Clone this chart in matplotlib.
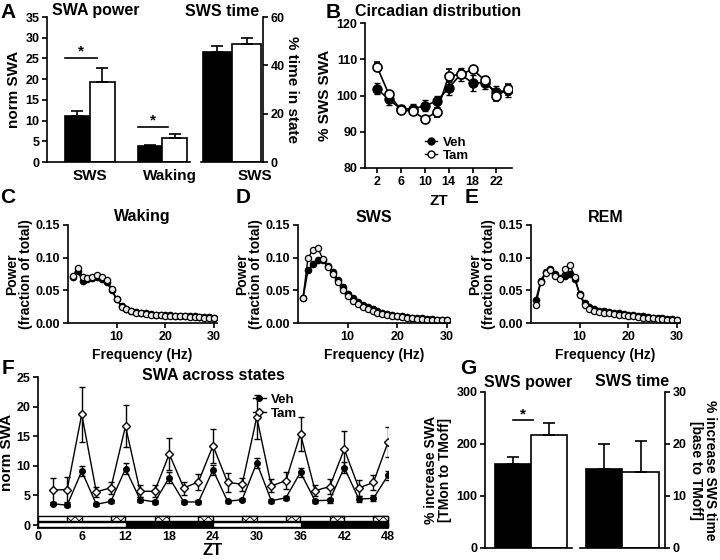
import matplotlib
matplotlib.use("Agg")
import matplotlib.pyplot as plt
from matplotlib.patches import Rectangle
from matplotlib.lines import Line2D

plt.rcParams['font.family'] = ['Liberation Sans', 'DejaVu Sans']
plt.rcParams['font.weight'] = 'bold'
plt.rcParams['axes.labelweight'] = 'bold'
plt.rcParams['axes.titleweight'] = 'bold'
plt.rcParams['font.size'] = 9
plt.rcParams['axes.linewidth'] = 1.2
plt.rcParams['xtick.major.width'] = 1.2
plt.rcParams['ytick.major.width'] = 1.2
plt.rcParams['xtick.major.size'] = 3.5
plt.rcParams['ytick.major.size'] = 3.5
plt.rcParams['xtick.major.pad'] = 2.5
plt.rcParams['ytick.major.pad'] = 2
plt.rcParams['hatch.linewidth'] = 0.6

# ---- data ----
# A: SWA power / SWS time
swa_groups = ['SWS', 'Waking']
swa_veh = [11.2, 3.8]
swa_veh_err = [1.0, 0.3]
swa_tam = [19.2, 5.8]
swa_tam_err = [3.6, 0.9]
sws_time_veh = [45.7]
sws_time_veh_err = [2.2]
sws_time_tam = [48.7]
sws_time_tam_err = [2.7]

# B: circadian distribution
zt_b = [2, 4, 6, 8, 10, 12, 14, 16, 18, 20, 22, 24]
circ_veh = [101.9, 98.9, 96.3, 96.3, 97.2, 98.4, 102.1, 105.8, 103.5, 103.5, 101.0, 101.4]
circ_veh_err = [1.5, 1.4, 1.0, 1.3, 1.6, 1.6, 1.9, 1.8, 2.2, 1.8, 1.5, 1.8]
circ_tam = [108.0, 100.3, 96.1, 95.6, 93.6, 95.4, 105.4, 105.8, 107.2, 104.3, 100.0, 101.7]
circ_tam_err = [1.3, 0.8, 0.8, 0.8, 0.8, 1.2, 1.8, 1.1, 1.0, 0.8, 1.5, 1.5]

# C-E: power spectra
freq = list(range(1, 31))
wake_veh = [0.070, 0.079, 0.065, 0.067, 0.069, 0.070, 0.068, 0.062, 0.050, 0.036,
            0.026, 0.022, 0.019, 0.017, 0.016, 0.015, 0.014, 0.013, 0.013, 0.012,
            0.012, 0.011, 0.011, 0.010, 0.010, 0.010, 0.009, 0.009, 0.009, 0.008]
wake_tam = [0.072, 0.084, 0.070, 0.069, 0.071, 0.073, 0.071, 0.066, 0.052, 0.036,
            0.025, 0.021, 0.018, 0.016, 0.015, 0.014, 0.013, 0.012, 0.012, 0.011,
            0.011, 0.010, 0.010, 0.010, 0.009, 0.009, 0.009, 0.008, 0.008, 0.008]
sws_veh = [0.038, 0.081, 0.090, 0.097, 0.096, 0.088, 0.078, 0.066, 0.055, 0.045,
           0.038, 0.032, 0.028, 0.024, 0.021, 0.018, 0.016, 0.014, 0.012, 0.011,
           0.010, 0.009, 0.008, 0.007, 0.007, 0.006, 0.006, 0.005, 0.005, 0.005]
sws_tam = [0.038, 0.099, 0.112, 0.115, 0.098, 0.086, 0.075, 0.062, 0.051, 0.041,
           0.034, 0.029, 0.025, 0.021, 0.018, 0.016, 0.014, 0.012, 0.011, 0.010,
           0.009, 0.008, 0.007, 0.006, 0.006, 0.005, 0.005, 0.004, 0.004, 0.004]
rem_veh = [0.035, 0.064, 0.078, 0.083, 0.075, 0.069, 0.072, 0.075, 0.067, 0.045,
           0.030, 0.024, 0.021, 0.019, 0.018, 0.017, 0.016, 0.015, 0.014, 0.013,
           0.012, 0.011, 0.010, 0.009, 0.008, 0.008, 0.007, 0.006, 0.006, 0.005]
rem_tam = [0.028, 0.062, 0.077, 0.081, 0.072, 0.068, 0.082, 0.089, 0.070, 0.043,
           0.028, 0.022, 0.019, 0.017, 0.016, 0.015, 0.014, 0.013, 0.012, 0.011,
           0.010, 0.009, 0.008, 0.008, 0.007, 0.006, 0.006, 0.005, 0.005, 0.004]

# F: SWA across states
zt_f = [2, 4, 6, 8, 10, 12, 14, 16, 18, 20, 22, 24, 26, 28, 30, 32, 34, 36, 38, 40, 42, 44, 46, 48]
f_veh = [3.6, 3.35, 9.1, 3.5, 4.0, 9.5, 4.3, 3.9, 8.0, 3.9, 3.9, 9.3,
         4.0, 4.3, 10.5, 4.1, 4.6, 8.9, 4.1, 4.2, 9.7, 4.4, 4.5, 8.4]
f_veh_err = [0.3, 0.3, 0.9, 0.3, 0.3, 0.9, 0.4, 0.3, 0.9, 0.3, 0.3, 0.9,
             0.3, 0.3, 0.8, 0.3, 0.3, 0.8, 0.3, 0.4, 0.9, 0.5, 0.5, 0.8]
f_tam = [5.9, 6.0, 18.7, 5.6, 6.3, 16.7, 5.7, 5.7, 12.0, 6.25, 7.3, 13.4,
         7.2, 6.9, 18.2, 6.6, 7.5, 15.4, 5.8, 6.5, 12.8, 6.25, 7.2, 14.0]
f_tam_err = [2.0, 2.1, 4.6, 0.9, 1.0, 3.6, 1.0, 1.0, 2.7, 1.1, 1.4, 2.9,
             1.6, 1.1, 3.7, 1.1, 1.4, 2.9, 0.9, 1.2, 3.0, 1.3, 1.3, 2.5]
dark_starts = [12, 36]
tm_on_starts = [4, 10, 16, 22, 28, 34, 40, 46]

# G: % increase
g_power_veh, g_power_veh_err = 162, 13
g_power_tam, g_power_tam_err = 218, 22
g_time_veh, g_time_veh_err = 15.1, 4.9
g_time_tam, g_time_tam_err = 14.6, 5.9

# ---- figure ----
W, H = 720, 560
fig = plt.figure(figsize=(7.2, 5.6), dpi=100)


def box(x0, y0, x1, y1):
    return [x0 / W, 1 - y1 / H, (x1 - x0) / W, (y1 - y0) / H]


def ftext(x, y, s, size=11.5, ha='center'):
    fig.text(x / W, 1 - y / H, s, fontsize=size, fontweight='bold', ha=ha, va='center')


def clean(ax, side='left'):
    ax.spines['top'].set_visible(False)
    if side == 'left':
        ax.spines['right'].set_visible(False)
    else:
        ax.spines['left'].set_visible(False)
        ax.yaxis.tick_right()
        ax.yaxis.set_label_position('right')


def star(ax, x0, x1, y, ys):
    ax.plot([x0, x1], [y, y], color='black', lw=1.2)
    ax.text((x0 + x1) / 2, ys, '*', ha='center', va='center', fontsize=11)


bar_kw = dict(edgecolor='black', linewidth=1.2)
err_kw = dict(ecolor='black', elinewidth=1.2, capsize=4, capthick=1.2)

# ---- A left ----
axA = fig.add_axes(box(47, 17, 190, 162))
clean(axA)
bw = 0.34
xg = [0, 1]
axA.bar([x for x in xg], swa_veh, bw, color='black', align='edge',
        yerr=[[0, 0], swa_veh_err], error_kw=err_kw, **bar_kw)
axA.bar([x + bw for x in xg], swa_tam, bw, color='white', align='edge',
        yerr=[[0, 0], swa_tam_err], error_kw=err_kw, **bar_kw)
axA.set_xlim(-0.25, 1.72)
axA.set_ylim(0, 35)
axA.set_yticks(range(0, 36, 5))
axA.set_xticks([bw, 1 + bw * 1.3])
axA.set_xticklabels(swa_groups, fontsize=11)
axA.tick_params(axis='x', length=0, pad=5)
axA.set_ylabel('norm SWA', fontsize=11, labelpad=3)
star(axA, 0.0, 0.44, 25, 26.6)
star(axA, 1.0, 1.42, 8.5, 10.0)

# ---- A right ----
axA2 = fig.add_axes(box(201, 17, 263, 162))
clean(axA2, 'right')
axA2.bar([-0.5], sws_time_veh, 0.5, color='black', align='edge',
         yerr=[[0], sws_time_veh_err], error_kw=err_kw, **bar_kw)
axA2.bar([0.0], sws_time_tam, 0.5, color='white', align='edge',
         yerr=[[0], sws_time_tam_err], error_kw=err_kw, **bar_kw)
axA2.set_xlim(-0.53, 0.53)
axA2.set_ylim(0, 60)
axA2.set_yticks([0, 20, 40, 60])
axA2.set_xticks([0.4])
axA2.set_xticklabels(['SWS'], fontsize=11)
axA2.tick_params(axis='x', length=0, pad=5)
axA2.set_ylabel('% time in state', fontsize=11, rotation=270, labelpad=10)

ftext(52, 11, 'SWA power', ha='left')
ftext(222, 11, 'SWS time')

# ---- B ----
axB = fig.add_axes(box(365, 23, 512, 168))
clean(axB)
axB.errorbar(zt_b, circ_veh, yerr=circ_veh_err, color='black', marker='o', ms=6.5,
             lw=1.2, capsize=2, elinewidth=1.2, label='Veh')
axB.errorbar(zt_b, circ_tam, yerr=circ_tam_err, color='black', marker='o', ms=6.5,
             mfc='white', mew=1.2, lw=1.2, capsize=2, elinewidth=1.2, label='Tam')
axB.set_xlim(0, 24.6)
axB.set_ylim(80, 120)
axB.set_yticks([80, 90, 100, 110, 120])
axB.set_xticks([2, 6, 10, 14, 18, 22])
axB.set_ylabel('% SWS SWA', fontsize=11, labelpad=3)
axB.set_xlabel('ZT', fontsize=11, labelpad=4)
axB.legend(handles=[Line2D([], [], color='black', marker='o', ms=5, lw=1),
                    Line2D([], [], color='black', marker='o', ms=5, mfc='white', lw=1)],
           labels=['Veh', 'Tam'], frameon=False, loc='lower left',
           bbox_to_anchor=(0.33, -0.04), handlelength=0.9, handletextpad=0.4,
           labelspacing=0.05, fontsize=9.5)
ftext(438, 11, 'Circadian distribution')

# ---- C, D, E ----
spectra = [(68, 217, 'Waking', wake_veh, wake_tam),
           (298, 450, 'SWS', sws_veh, sws_tam),
           (531, 680, 'REM', rem_veh, rem_tam)]
for x0, x1, name, veh, tam in spectra:
    ax = fig.add_axes(box(x0, 225, x1, 323))
    clean(ax)
    ax.plot(freq, veh, color='black', marker='o', ms=4.5, lw=1.2)
    ax.plot(freq, tam, color='black', marker='o', ms=4.5, mfc='#e8e8e8', mew=0.9, lw=1.0)
    ax.set_xlim(0, 30.6)
    ax.set_ylim(0, 0.15)
    ax.set_yticks([0, 0.05, 0.10, 0.15])
    ax.set_yticklabels(['0.00', '0.05', '0.10', '0.15'])
    ax.set_xticks([10, 20, 30])
    ax.set_ylabel('Power\n(fraction of total)', fontsize=10, labelpad=2, linespacing=1.0)
    ax.set_xlabel('Frequency (Hz)', fontsize=10, labelpad=3)
    ftext((x0 + x1) / 2, 217, name)

# ---- F ----
axF = fig.add_axes(box(38, 377, 388, 528))
clean(axF)
axF.errorbar(zt_f, f_tam, yerr=f_tam_err, color='black', marker='D', ms=4,
             mfc='white', mew=1.0, lw=1.0, capsize=2.5, elinewidth=1.0, label='Tam')
axF.errorbar(zt_f, f_veh, yerr=f_veh_err, color='black', marker='o', ms=4,
             lw=1.0, capsize=2.5, elinewidth=1.0, label='Veh')
axF.set_xlim(0, 48)
axF.set_ylim(-0.5, 25)
axF.set_yticks([0, 5, 10, 15, 20, 25])
axF.set_xticks(range(0, 49, 6))
axF.tick_params(axis='x', length=0, pad=2)
axF.set_ylabel('norm SWA', fontsize=11, labelpad=2)
axF.set_xlabel('ZT', fontsize=12, labelpad=0)
# light/dark and TM bars
axF.add_patch(Rectangle((0, -0.35), 48, 0.85, facecolor='white', edgecolor='black', lw=1, clip_on=False))
for s in dark_starts:
    axF.add_patch(Rectangle((s, -0.35), 12, 0.85, facecolor='black', edgecolor='black', lw=1, clip_on=False))
axF.add_patch(Rectangle((0, 0.62), 48, 0.88, facecolor='white', edgecolor='black', lw=1, clip_on=False))
for s in tm_on_starts:
    axF.add_patch(Rectangle((s, 0.62), 2, 0.88, facecolor='white', edgecolor='black',
                            hatch='xxxx', lw=1, clip_on=False))
axF.legend(handles=[Line2D([], [], color='black', marker='o', ms=4, lw=1),
                    Line2D([], [], color='black', marker='D', ms=4, mfc='white', lw=1)],
           labels=['Veh', 'Tam'], frameon=False, loc='upper left',
           bbox_to_anchor=(0.58, 0.97), handlelength=1.0, handletextpad=0.4,
           labelspacing=0.15, fontsize=9.5)
ftext(213, 375, 'SWA across states')

# ---- G ----
axG1 = fig.add_axes(box(485, 392, 572, 548))
clean(axG1)
axG1.bar([0], [g_power_veh], 1.0, color='black', yerr=[[0], [g_power_veh_err]], error_kw=err_kw, **bar_kw)
axG1.bar([1], [g_power_tam], 1.0, color='white', yerr=[[0], [g_power_tam_err]], error_kw=err_kw, **bar_kw)
axG1.set_xlim(-0.79, 1.63)
axG1.set_ylim(0, 300)
axG1.set_yticks([0, 100, 200, 300])
axG1.set_xticks([])
axG1.set_ylabel('% increase SWA\n[TMon to TMoff]', fontsize=10, labelpad=3, linespacing=1.0)
star(axG1, 0.0, 0.55, 247, 256)

axG2 = fig.add_axes(box(580, 392, 665, 548))
clean(axG2, 'right')
axG2.bar([0], [g_time_veh], 1.0, color='black', yerr=[[0], [g_time_veh_err]], error_kw=err_kw, **bar_kw)
axG2.bar([1], [g_time_tam], 1.0, color='white', yerr=[[0], [g_time_tam_err]], error_kw=err_kw, **bar_kw)
axG2.set_xlim(-0.65, 1.66)
axG2.set_ylim(0, 30)
axG2.set_yticks([0, 10, 20, 30])
axG2.set_xticks([])
axG2.set_ylabel('% increase SWS time\n[base to TMoff]', fontsize=10, rotation=270,
                labelpad=22, linespacing=1.0)
ftext(528, 382, 'SWS power')
ftext(632, 382, 'SWS time')

# panel letters
for letter, x, y in [('A', 8, 12), ('B', 333, 12), ('C', 8, 197), ('D', 243, 197),
                     ('E', 472, 197), ('F', 8, 368), ('G', 468, 368)]:
    ftext(x, y, letter, 15)

fig.savefig('out.png', dpi=100)
